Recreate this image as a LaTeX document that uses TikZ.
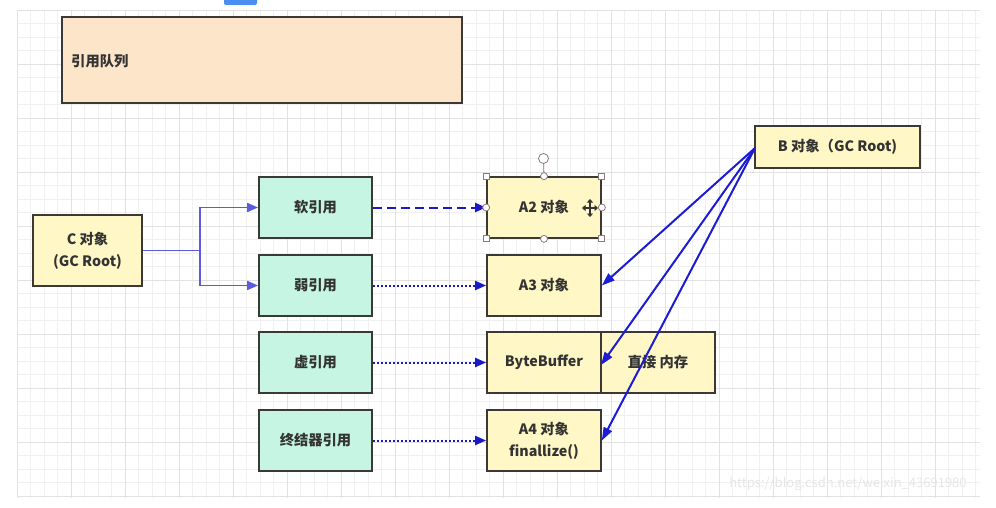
\documentclass[tikz,border=0pt]{standalone}
\usepackage{fontspec}
\setmainfont{Noto Sans CJK SC}
\usetikzlibrary{arrows.meta}
\definecolor{gridminor}{HTML}{F0F0F0}
\definecolor{gridmajor}{HTML}{E2E2E2}
\definecolor{boxline}{HTML}{3C3835}
\definecolor{txt}{HTML}{333333}
\definecolor{peach}{HTML}{FDE5C9}
\definecolor{ylw}{HTML}{FFF8C6}
\definecolor{mint}{HTML}{C6F6E3}
\definecolor{cline}{HTML}{5B5BE0}
\definecolor{dline}{HTML}{1A1AC4}
\definecolor{bline}{HTML}{1C1CD6}
\definecolor{tab}{HTML}{4A8EF2}
\definecolor{wm}{HTML}{E6E6E6}
\definecolor{handle}{HTML}{8A7A7A}
\tikzset{
  box/.style={draw=boxline, line width=1.7pt, inner sep=0pt, text=txt,
    font=\fontsize{14.3}{22}\selectfont\bfseries, align=center},
  ybox/.style={box, fill=ylw},
  mbox/.style={box, fill=mint, minimum width=113pt, minimum height=61pt},
  obox/.style={ybox, minimum width=114pt, minimum height=61pt},
  carrow/.style={draw=cline, line width=1.7pt, -{Triangle[length=11pt,width=9pt]}},
  dashedarrow/.style={draw=dline, line width=2pt, dash pattern=on 9pt off 5pt, -{Triangle[length=11pt,width=9pt]}},
  dottedarrow/.style={draw=dline, line width=2pt, dash pattern=on 2pt off 2pt, -{Triangle[length=11pt,width=9pt]}},
  barrow/.style={draw=bline, line width=2pt, -{Triangle[length=13pt,width=9pt]}},
  sqhandle/.style={draw=handle, fill=white, line width=0.8pt, minimum size=6pt, inner sep=0pt, rectangle},
  cihandle/.style={draw=handle, fill=white, line width=0.8pt, minimum size=7pt, inner sep=0pt, circle},
}
\begin{document}
\begin{tikzpicture}[x=1pt,y=-1pt]
\useasboundingbox (0,0) rectangle (996,508);
\fill[white] (0,0) rectangle (996,508);
% grid
\foreach \i in {0,...,71} {
  \draw[gridminor, line width=0.7pt] ({17+13.5*\i},10) -- ({17+13.5*\i},498);
}
\foreach \j in {0,...,36} {
  \draw[gridminor, line width=0.7pt] (17,{10+13.5*\j}) -- (980,{10+13.5*\j});
}
\foreach \i in {0,...,17} {
  \draw[gridmajor, line width=0.7pt] ({17+54*\i},10) -- ({17+54*\i},498);
}
\foreach \j in {0,...,9} {
  \draw[gridmajor, line width=0.7pt] (17,{10+54*\j}) -- (980,{10+54*\j});
}
% top tab
\fill[tab, rounded corners=2pt] (224,-4) rectangle (257,5);
% watermark
\node[text=wm, font=\fontsize{13}{14}\selectfont, inner sep=0pt] (wmark) at (848,484) {https://blog.csdn.net/weixin\_43691980};

% queue
\node[box, fill=peach, minimum width=400pt, minimum height=86pt] (queue) at (262,60) {};
\node[text=txt, font=\fontsize{14.3}{16}\selectfont\bfseries, anchor=west, inner sep=0pt] (queuetext) at (71,61) {引用队列};

% C object
\node[ybox, minimum width=109pt, minimum height=71pt] (C) at (87.5,250.5) {C 对象\\(GC Root)};

% references
\node[mbox] (soft) at (315.5,207.5) {软引用};
\node[mbox] (weak) at (315.5,285.5) {弱引用};
\node[mbox] (phantom) at (315.5,362.5) {虚引用};
\node[mbox] (final) at (315.5,440.5) {终结器引用};

% objects
\node[obox] (A2) at (544,207.5) {A2 对象};
\node[obox] (A3) at (544,285.5) {A3 对象};
\node[obox] (BB) at (544,362.5) {ByteBuffer};
\node[obox] (mem) at (658,362.5) {直接 内存};
\node[obox] (A4) at (544,440.5) {A4 对象\\finallize()};

% B object
\node[ybox, minimum width=165pt, minimum height=42pt] (B) at (837.5,147) {B 对象（GC Root)};

% C connectors
\coordinate (split) at (200,250.5);
\draw[carrow] (C.east) -- (split) |- (soft.west);
\draw[carrow] (split) |- (weak.west);

% reference arrows
\draw[dashedarrow] (soft.east) -- (A2.west);
\draw[dottedarrow] (weak.east) -- (A3.west);
\draw[dottedarrow] (phantom.east) -- (BB.west);
\draw[dottedarrow] (final.east) -- (A4.west);

% B arrows
\coordinate (bstart) at (755,148);
\coordinate (bbend) at (601,365);
\draw[barrow] (bstart) -- (A3.east);
\draw[barrow] (bstart) -- (bbend);
\draw[barrow] (bstart) -- (A4.east);

% selection handles on A2
\coordinate (rot) at (543.5,158.5);
\draw[handle, line width=0.8pt] (rot) -- (A2.north);
\node[cihandle, minimum size=10pt] (roth) at (rot) {};
\node[sqhandle] (h1) at (A2.north west) {};
\node[sqhandle] (h2) at (A2.north east) {};
\node[sqhandle] (h3) at (A2.south west) {};
\node[sqhandle] (h4) at (A2.south east) {};
\node[cihandle] (h5) at (A2.north) {};
\node[cihandle] (h6) at (A2.south) {};
\node[cihandle] (h7) at (A2.west) {};
\node[cihandle] (h8) at (A2.east) {};
% move cursor
\coordinate (mv) at (590,208);
\draw[black!80, line width=1.2pt, {Triangle[length=3.5pt,width=6pt]}-{Triangle[length=3.5pt,width=6pt]}] ([xshift=-8pt]mv) -- ([xshift=8pt]mv);
\draw[black!80, line width=1.2pt, {Triangle[length=3.5pt,width=6pt]}-{Triangle[length=3.5pt,width=6pt]}] ([yshift=-9pt]mv) -- ([yshift=9pt]mv);
\end{tikzpicture}
\end{document}
